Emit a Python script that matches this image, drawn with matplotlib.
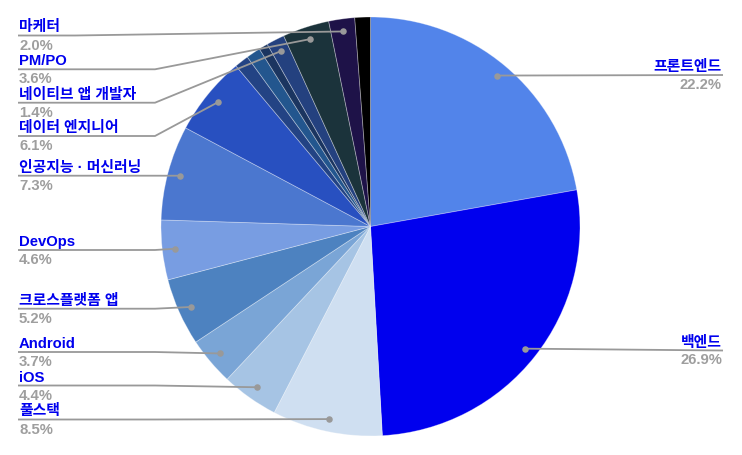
import numpy as np
import matplotlib.pyplot as plt

W, H = 742, 455

# slices, clockwise from 12 o'clock (None = slice without a label)
categories = ['프론트엔드', '백엔드', '풀스택', 'iOS', 'Android', '크로스플랫폼 앱',
              'DevOps', '인공지능 · 머신러닝', '데이터 엔지니어', None, None, None,
              '네이티브 앱 개발자', 'PM/PO', '마케터', None]
shares = [22.2, 26.9, 8.5, 4.4, 3.7, 5.2, 4.6, 7.3, 6.1, 1.1, 1.1, 0.7, 1.4, 3.6, 2.0, 1.2]
colors = ['#5284ea', '#0000ee', '#cfdff1', '#a6c4e4', '#7aa5d6', '#4d82c0',
          '#789de2', '#4b77cf', '#2850c0', '#234384', '#23568e', '#1b3560',
          '#24417f', '#1b333b', '#1e1248', '#000000']

# label rows: side and y of the leader/underline (pixels from top)
label_pos = {
    '프론트엔드': ('right', 75), '백엔드': ('right', 350.5),
    '마케터': ('left', 35.5), 'PM/PO': ('left', 69.3), '네이티브 앱 개발자': ('left', 102.7),
    '데이터 엔지니어': ('left', 136), '인공지능 · 머신러닝': ('left', 175.7),
    'DevOps': ('left', 250), '크로스플랫폼 앱': ('left', 308.7), 'Android': ('left', 352),
    'iOS': ('left', 385.5), '풀스택': ('left', 419.5),
}

FONT = ['Liberation Sans', 'Noto Sans CJK KR', 'DejaVu Sans']
NAME_C = '#0000ee'
PCT_C = '#9e9e9e'
LINE_C = '#999999'


def main():
    fig = plt.figure(figsize=(W / 100, H / 100), dpi=100)
    ax = fig.add_axes([0, 0, 1, 1])

    cx, cy, R = 370.5, H - 226.5, 209.5
    wedges, _ = ax.pie(shares, colors=colors, startangle=90, counterclock=False,
                       center=(cx, cy), radius=R,
                       wedgeprops=dict(edgecolor=(1, 1, 1, 0.35), linewidth=0.6))
    ax.set_xlim(0, W)
    ax.set_ylim(0, H)
    ax.set_axis_off()

    for w, name, val in zip(wedges, categories, shares):
        if name is None:
            continue
        side, ly = label_pos[name]
        ly = H - ly
        mid = np.deg2rad((w.theta1 + w.theta2) / 2)
        dx, dy = cx + 0.94 * R * np.cos(mid), cy + 0.94 * R * np.sin(mid)

        if side == 'left':
            x0 = 18
            bend = 75 if name == '마케터' else 155
            bend = min(bend, dx)
            ax.plot([x0, bend, dx], [ly, ly, dy], color=LINE_C, lw=1.3,
                    solid_capstyle='butt', zorder=3)
            tx, ha = 19, 'left'
        else:
            x0 = 723
            ax.plot([dx, x0], [dy, ly], color=LINE_C, lw=1.3,
                    solid_capstyle='butt', zorder=3)
            tx, ha = 722, 'right'
        ax.scatter([dx], [dy], s=22, color=LINE_C, zorder=4, linewidths=0)

        ax.text(tx, ly + 4, name, ha=ha, va='baseline', fontsize=10.7,
                fontweight='bold', color=NAME_C, family=FONT)
        ax.text(tx, ly - 14, '%.1f%%' % val, ha=ha, va='baseline', fontsize=10.7,
                fontweight='bold', color=PCT_C, family=FONT)

    fig.savefig('out.png', dpi=100)


if __name__ == '__main__':
    main()
